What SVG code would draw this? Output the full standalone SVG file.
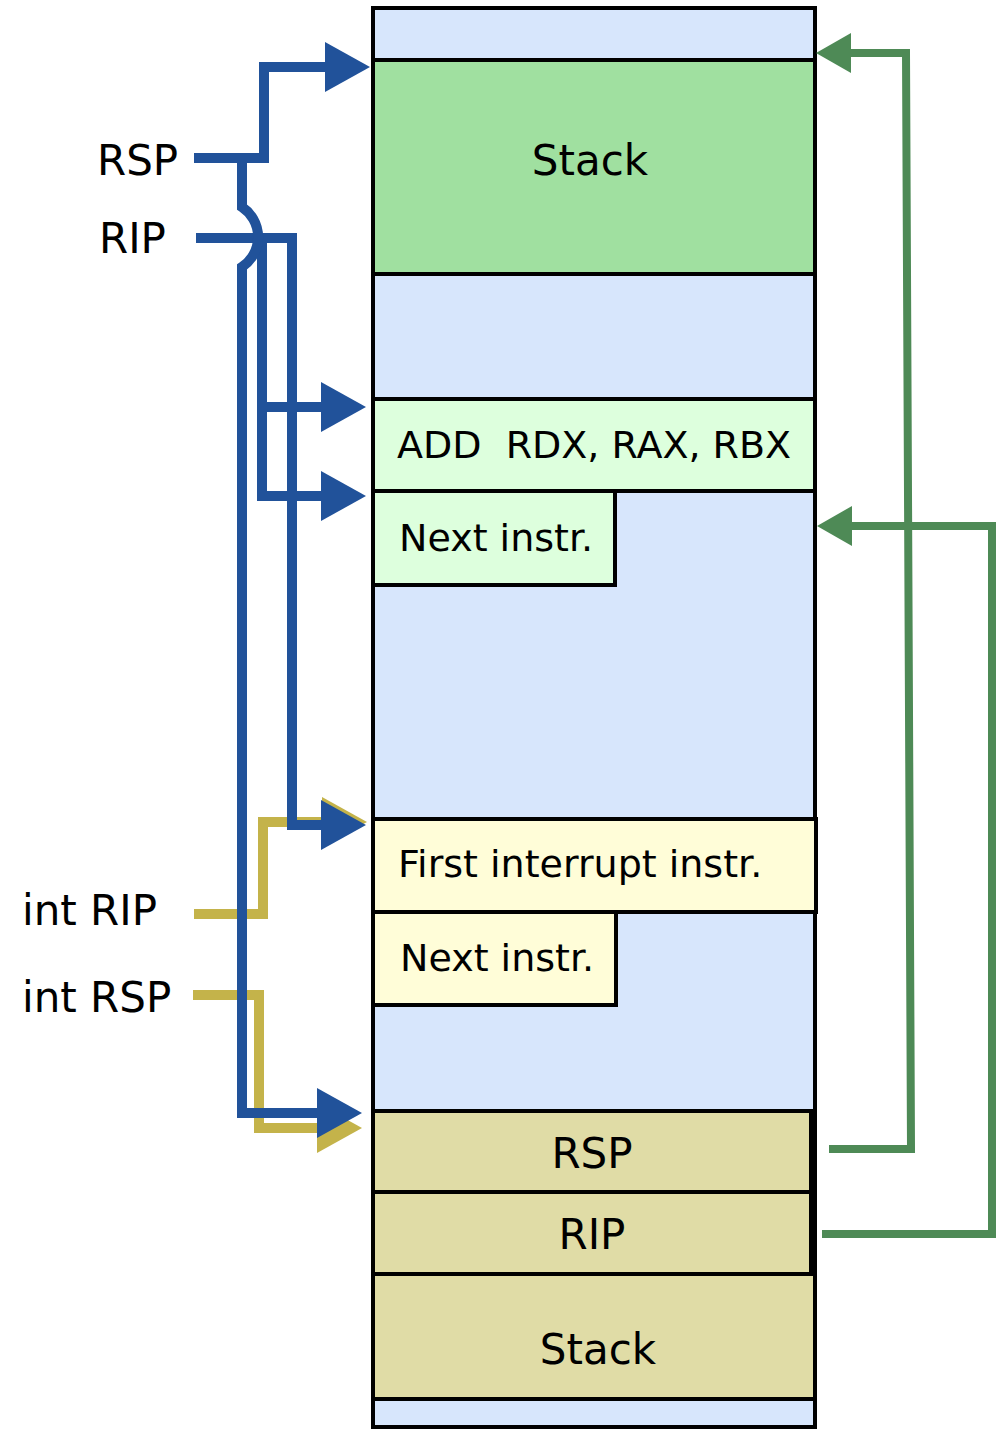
<svg xmlns="http://www.w3.org/2000/svg" width="996" height="1431" viewBox="0 0 996 1431">
<style>
.box{stroke:#000;stroke-width:4}
.lbl{font-family:"DejaVu Sans","Liberation Sans",sans-serif;font-size:42px;fill:#000}
.ins{font-family:"DejaVu Sans","Liberation Sans",sans-serif;font-size:38px;fill:#000;white-space:pre}
.mem{fill:#d7e6fc}
.stk{fill:#a0e0a0}
.grn{fill:#ddffdd}
.yel{fill:#fffdd8}
.kha{fill:#e0dca6}
.cb{fill:none;stroke:#21529a;stroke-width:10;stroke-linejoin:miter}
.cy{fill:none;stroke:#c4b34a;stroke-width:10;stroke-linejoin:miter}
.cg{fill:none;stroke:#4e8a56;stroke-width:8;stroke-linejoin:miter}
</style>
<defs>
<marker id="ab" markerUnits="userSpaceOnUse" viewBox="0 0 45 50" refX="5" refY="25" markerWidth="45" markerHeight="50" orient="auto"><path d="M0,0 L45,25 L0,50 Z" fill="#21529a"/></marker>
<marker id="ay" markerUnits="userSpaceOnUse" viewBox="0 0 45 50" refX="5" refY="25" markerWidth="45" markerHeight="50" orient="auto"><path d="M0,0 L45,25 L0,50 Z" fill="#c4b34a"/></marker>
<marker id="ag" markerUnits="userSpaceOnUse" viewBox="0 0 35 40" refX="5" refY="20" markerWidth="35" markerHeight="40" orient="auto"><path d="M0,0 L35,20 L0,40 Z" fill="#4e8a56"/></marker>
</defs>
<rect width="996" height="1431" fill="#fff"/>
<g id="memory"><rect class="box mem" x="373" y="8" width="442" height="1419"/></g>
<g id="stack-top"><rect class="box stk" x="373" y="60" width="442" height="214"/><text class="lbl" x="590" y="175" text-anchor="middle">Stack</text></g>
<g id="add-instr"><rect class="box grn" x="373" y="399" width="442" height="92"/><text class="ins" x="397" y="458">ADD  RDX, RAX, RBX</text></g>
<g id="next-instr-1"><rect class="box grn" x="373" y="491" width="242" height="94"/><text class="ins" x="399" y="551">Next instr.</text></g>
<g id="first-int-instr"><rect class="box yel" x="373" y="819" width="443" height="93"/><text class="ins" x="398" y="877">First interrupt instr.</text></g>
<g id="next-instr-2"><rect class="box yel" x="373" y="912" width="243" height="93"/><text class="ins" x="400" y="971">Next instr.</text></g>
<g id="saved-rsp"><rect class="box kha" x="373" y="1111" width="438" height="81"/><text class="lbl" x="592" y="1168" text-anchor="middle">RSP</text></g>
<g id="saved-rip"><rect class="box kha" x="373" y="1192" width="438" height="82"/><text class="lbl" x="592" y="1249" text-anchor="middle">RIP</text></g>
<g id="stack-bottom"><rect class="box kha" x="373" y="1274" width="442" height="125"/><text class="lbl" x="598" y="1364" text-anchor="middle">Stack</text></g>
<g id="reg-rsp"><text class="lbl" x="97" y="175">RSP</text></g>
<g id="reg-rip"><text class="lbl" x="99" y="253">RIP</text></g>
<g id="reg-int-rip"><text class="lbl" x="22" y="925">int RIP</text></g>
<g id="reg-int-rsp"><text class="lbl" x="22" y="1012">int RSP</text></g>
<g id="connectors">
<path class="cy" d="M194,914 H263 V822 H327" marker-end="url(#ay)"/>
<path class="cy" d="M193,995 H259 V1128 H322" marker-end="url(#ay)"/>
<path class="cb" d="M194,158 H264 V67 H330" marker-end="url(#ab)"/>
<path class="cb" d="M196,238 H292 V825 H326" marker-end="url(#ab)"/>
<path class="cb" d="M262,238 V496 H326" marker-end="url(#ab)"/>
<path class="cb" d="M262,407 H326" marker-end="url(#ab)"/>
<path class="cb" d="M242,158 V207 A36,36 0 0 1 242,267 V1113 H322" marker-end="url(#ab)"/>
<path class="cg" d="M829,1149 H911 L906,53 H846" marker-end="url(#ag)"/>
<path class="cg" d="M822,1234 H992 V526 H847" marker-end="url(#ag)"/>
</g>
</svg>
